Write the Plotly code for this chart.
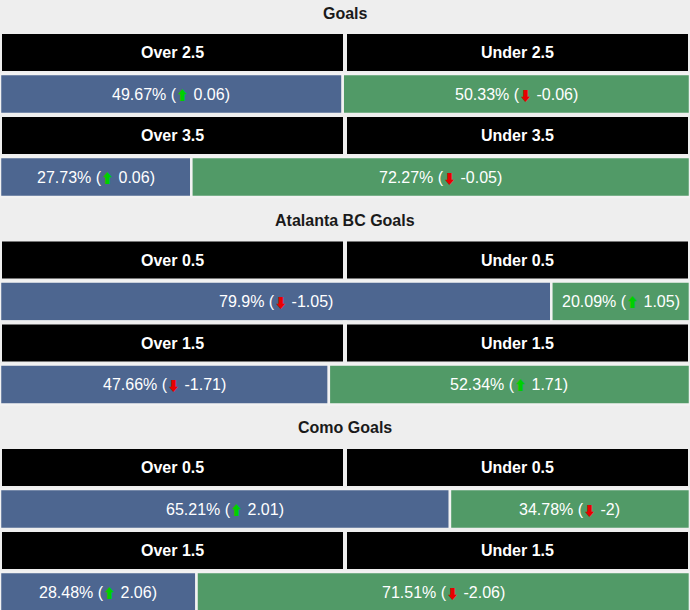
import plotly.graph_objects as go

# ---- data ----
section_titles = ["Goals", "Atalanta BC Goals", "Como Goals"]
over_labels = [["Over 2.5", "Over 3.5"], ["Over 0.5", "Over 1.5"], ["Over 0.5", "Over 1.5"]]
under_labels = [["Under 2.5", "Under 3.5"], ["Under 0.5", "Under 1.5"], ["Under 0.5", "Under 1.5"]]
over_pct = [[49.67, 27.73], [79.9, 47.66], [65.21, 28.48]]
over_chg = [[0.06, 0.06], [-1.05, -1.71], [2.01, 2.06]]
under_pct = [[50.33, 72.27], [20.09, 52.34], [34.78, 71.51]]
under_chg = [[-0.06, -0.05], [1.05, 1.71], [-2, -2.06]]

# ---- style / layout constants ----
BG = "#eeeeee"
BLUE = "#4d6690"
GREEN = "#519a67"
UP_C = "#00d000"
DOWN_C = "#e80000"
FONT = "Liberation Sans, Arial, sans-serif"
ARROW_FONT = "Noto Sans CJK SC"
W, H = 690, 610
SEC_H = 207.5
ROW_STEP = 41.5
FIRST_ROW = 52.5
TITLE_Y = 13


def label(p, d):
    if d >= 0:
        arr = f"<span style='color:{UP_C};font-family:{ARROW_FONT};font-size:13px'>⬆</span>"
    else:
        arr = f"<span style='color:{DOWN_C};font-family:{ARROW_FONT};font-size:13px'>⬇</span>"
    return f"{p:g}% ({arr} {d:g})"


fig = go.Figure()
annotations = []

for s in range(len(section_titles)):
    annotations.append(dict(x=50, y=TITLE_Y + s * 207, text=f"<b>{section_titles[s]}</b>",
                            showarrow=False, xref="x", yref="y",
                            font=dict(family=FONT, size=16, color="#1a1a1a")))
    for k in range(2):
        yh = FIRST_ROW + s * SEC_H + (2 * k) * ROW_STEP
        yd = FIRST_ROW + s * SEC_H + (2 * k + 1) * ROW_STEP
        # header bars
        fig.add_trace(go.Bar(orientation="h", y=[yh, yh], x=[50, 50], base=[0, 50],
                             width=41, marker=dict(color="#000000", line=dict(color=BG, width=4)),
                             hoverinfo="skip", showlegend=False))
        annotations.append(dict(x=25, y=yh, text=f"<b>{over_labels[s][k]}</b>", showarrow=False,
                                font=dict(family=FONT, size=16, color="white")))
        annotations.append(dict(x=75, y=yh, text=f"<b>{under_labels[s][k]}</b>", showarrow=False,
                                font=dict(family=FONT, size=16, color="white")))
        # data bars
        o = over_pct[s][k]
        u = under_pct[s][k]
        fig.add_trace(go.Bar(orientation="h", y=[yd], x=[o], base=[0], width=40,
                             marker=dict(color=BLUE, line=dict(color="#f2f2f2", width=2.5)),
                             hoverinfo="skip", showlegend=False))
        fig.add_trace(go.Bar(orientation="h", y=[yd], x=[u], base=[o], width=40,
                             marker=dict(color=GREEN, line=dict(color="#f2f2f2", width=2.5)),
                             hoverinfo="skip", showlegend=False))
        annotations.append(dict(x=o / 2, y=yd, text=label(o, over_chg[s][k]), showarrow=False,
                                font=dict(family=FONT, size=16, color="white")))
        annotations.append(dict(x=o + u / 2, y=yd, text=label(u, under_chg[s][k]), showarrow=False,
                                font=dict(family=FONT, size=16, color="white")))

fig.update_layout(
    width=W, height=H,
    margin=dict(l=0, r=0, t=0, b=0),
    paper_bgcolor=BG, plot_bgcolor=BG,
    barmode="overlay",
    annotations=annotations,
    xaxis=dict(range=[0, 100], visible=False, fixedrange=True),
    yaxis=dict(range=[H, 0], visible=False, fixedrange=True),
)

fig.write_html("out.html", config={"displayModeBar": False},
               post_script="document.body.style.margin='0';document.body.style.overflow='hidden';")
